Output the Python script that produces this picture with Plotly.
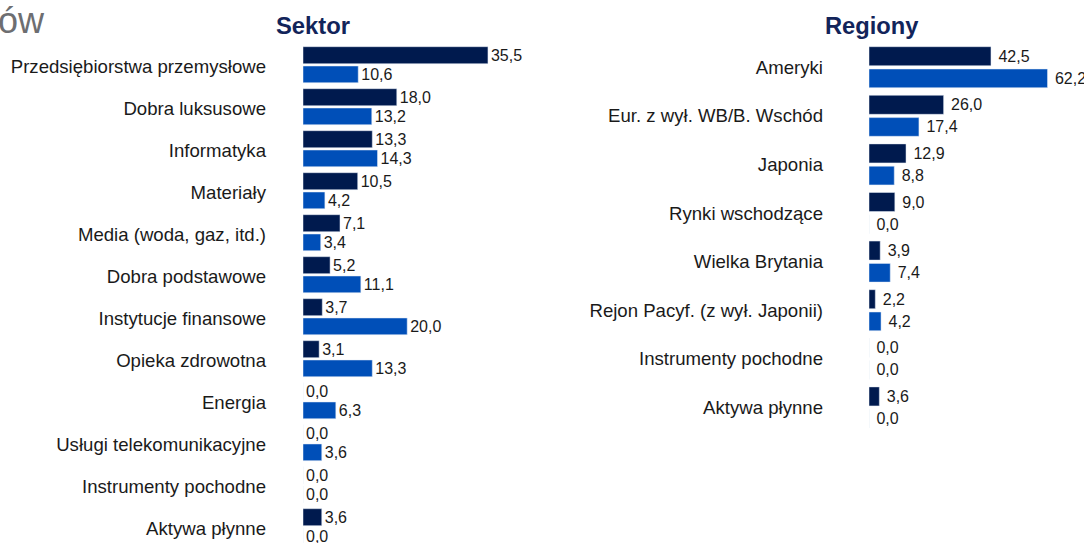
import plotly.graph_objects as go

# ---- data ----
sector_labels = ["Przedsiębiorstwa przemysłowe", "Dobra luksusowe", "Informatyka", "Materiały",
                 "Media (woda, gaz, itd.)", "Dobra podstawowe", "Instytucje finansowe",
                 "Opieka zdrowotna", "Energia", "Usługi telekomunikacyjne",
                 "Instrumenty pochodne", "Aktywa płynne"]
sector_dark = [35.5, 18.0, 13.3, 10.5, 7.1, 5.2, 3.7, 3.1, 0.0, 0.0, 0.0, 3.6]
sector_light = [10.6, 13.2, 14.3, 4.2, 3.4, 11.1, 20.0, 13.3, 6.3, 3.6, 0.0, 0.0]

region_labels = ["Ameryki", "Eur. z wył. WB/B. Wschód", "Japonia", "Rynki wschodzące",
                 "Wielka Brytania", "Rejon Pacyf. (z wył. Japonii)", "Instrumenty pochodne",
                 "Aktywa płynne"]
region_dark = [42.5, 26.0, 12.9, 9.0, 3.9, 2.2, 0.0, 3.6]
region_light = [62.2, 17.4, 8.8, 0.0, 7.4, 4.2, 0.0, 0.0]

DARK = "#001a4e"
LIGHT = "#004fb8"
TXT = "#1a1a1a"
FONT = "Liberation Sans, Arial, sans-serif"
W, H = 1084, 543


def fmt(v):
    return f"{v:.1f}".replace(".", ",")


fig = go.Figure()

# left panel (Sektor): 42 px per row
ls = 42.0
lpos = list(range(len(sector_labels)))
fig.add_trace(go.Bar(x=sector_dark, y=lpos, orientation="h", marker_color=DARK,
                     offset=-18 / ls, width=17 / ls, text=[fmt(v) for v in sector_dark],
                     textposition="outside", cliponaxis=False, constraintext="none",
                     textfont=dict(size=16, color=TXT), xaxis="x", yaxis="y",
                     name="seria 1", showlegend=False))
fig.add_trace(go.Bar(x=sector_light, y=lpos, orientation="h", marker_color=LIGHT,
                     offset=1.3 / ls, width=16.7 / ls, text=[fmt(v) for v in sector_light],
                     textposition="outside", cliponaxis=False, constraintext="none",
                     textfont=dict(size=16, color=TXT), xaxis="x", yaxis="y",
                     name="seria 2", showlegend=False))

# right panel (Regiony): 48.6 px per row
rs = 48.6
rpos = list(range(len(region_labels)))
fig.add_trace(go.Bar(x=region_dark, y=rpos, orientation="h", marker_color=DARK,
                     offset=-20.5 / rs, width=19 / rs,
                     text=["\u00a0" + fmt(v) for v in region_dark],
                     textposition="outside", cliponaxis=False, constraintext="none",
                     textfont=dict(size=16, color=TXT), xaxis="x2", yaxis="y2",
                     name="seria 1", showlegend=False))
fig.add_trace(go.Bar(x=region_light, y=rpos, orientation="h", marker_color=LIGHT,
                     offset=1.8 / rs, width=18.7 / rs,
                     text=["\u00a0" + fmt(v) for v in region_light],
                     textposition="outside", cliponaxis=False, constraintext="none",
                     textfont=dict(size=16, color=TXT), xaxis="x2", yaxis="y2",
                     name="seria 2", showlegend=False))

l_x0 = 303
l_scale = 5.21
r_x0 = 869
r_scale = 2.87

l_top = 43.7
r_top = 42.9
r_bot = r_top + 8 * rs

fig.update_layout(
    width=W, height=H,
    margin=dict(l=0, r=0, t=0, b=0),
    paper_bgcolor="white", plot_bgcolor="white",
    barmode="overlay",
    font=dict(family=FONT, color=TXT),
    xaxis=dict(domain=[l_x0 / W, (l_x0 + 40 * l_scale) / W], range=[0, 40],
               visible=False, fixedrange=True),
    yaxis=dict(domain=[0, 1 - l_top / H],
               range=[(H - l_top) / ls - 0.5, -0.5],
               tickvals=[p + 0.05 for p in lpos], ticktext=sector_labels, ticks="",
               showline=False, showgrid=False, zeroline=False,
               tickfont=dict(size=18.6, color=TXT), ticklabelstandoff=36,
               anchor="x"),
    xaxis2=dict(domain=[r_x0 / W, (r_x0 + 70 * r_scale) / W], range=[0, 70],
                visible=False, fixedrange=True, anchor="y2"),
    yaxis2=dict(domain=[1 - r_bot / H, 1 - r_top / H],
                range=[7.5, -0.5],
                tickvals=rpos, ticktext=region_labels, ticks="",
                showline=False, showgrid=False, zeroline=False,
                tickfont=dict(size=18.6, color=TXT), ticklabelstandoff=45,
                anchor="x2"),
    annotations=[
        dict(text="<b>Sektor</b>", x=313 / W, y=1 - 26 / H, xref="paper", yref="paper",
             showarrow=False, xanchor="center", yanchor="middle",
             font=dict(size=23.8, color="#12245a", family=FONT)),
        dict(text="<b>Regiony</b>", x=872 / W, y=1 - 26 / H, xref="paper", yref="paper",
             showarrow=False, xanchor="center", yanchor="middle",
             font=dict(size=23.7, color="#12245a", family=FONT)),
        dict(text="ów", x=47 / W, y=1 - 20 / H, xref="paper", yref="paper",
             showarrow=False, xanchor="right", yanchor="middle",
             font=dict(size=36, color="#6d6e71", family=FONT)),
    ],
)

fig.write_html("out.html", config=dict(displayModeBar=False),
               post_script="document.body.style.margin='0';document.body.style.overflow='hidden';")
